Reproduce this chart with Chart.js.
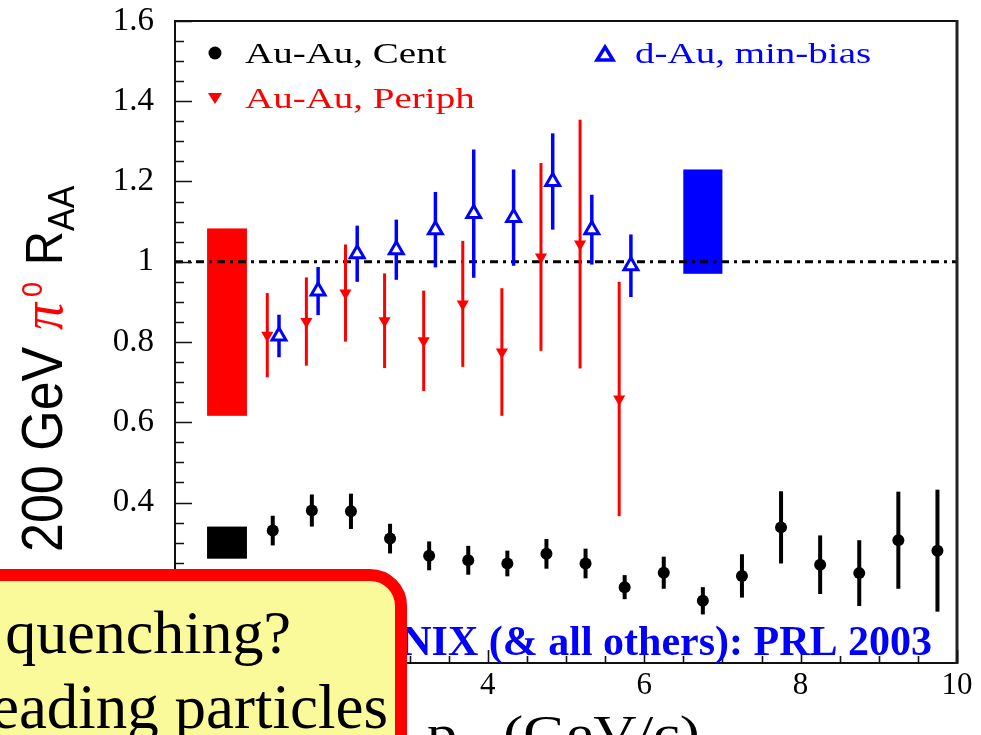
<!DOCTYPE html>
<html><head><meta charset="utf-8">
<script src="https://cdn.jsdelivr.net/npm/chart.js@4.4.1/dist/chart.umd.min.js"></script>
<style>html,body{margin:0;padding:0;background:#fff;overflow:hidden}#wrap{position:relative;width:981px;height:735px}</style>
</head><body><div id="wrap"><canvas id="c" width="981" height="735"></canvas></div>
<script>
// ---- data ----
const xCent = [1.25,1.75,2.25,2.75,3.25,3.75,4.25,4.75,5.25,5.75,6.25,6.75,7.25,7.75,8.25,8.75,9.25,9.75];
const yCent = [0.33,0.38,0.378,0.31,0.267,0.256,0.248,0.272,0.248,0.189,0.225,0.155,0.217,0.338,0.245,0.224,0.306,0.28];
const eCent = [0.037,0.04,0.044,0.037,0.036,0.036,0.032,0.037,0.037,0.03,0.04,0.034,0.054,0.09,0.073,0.082,0.121,0.152];

const xPeriph = [1.18,1.68,2.18,2.68,3.18,3.68,4.18,4.68,5.18,5.68];
const yPeriph = [0.817,0.851,0.922,0.853,0.803,0.895,0.775,1.012,1.044,0.658];
const ePeriph = [0.105,0.11,0.121,0.118,0.125,0.157,0.159,0.234,0.31,0.292];

const xDAu = [1.33,1.83,2.33,2.83,3.33,3.82,4.33,4.83,5.33,5.83];
const yDAu = [0.815,0.927,1.02,1.03,1.08,1.12,1.11,1.2,1.08,0.99];
const eDAu = [0.053,0.06,0.07,0.075,0.094,0.16,0.12,0.12,0.087,0.078];

// normalisation-uncertainty boxes: Cent, Periph, d-Au
const sysXLow  = [0.41, 0.41, 6.5];
const sysXHigh = [0.92, 0.92, 7.0];
const sysYLow  = [0.26, 0.616, 0.97];
const sysYHigh = [0.34, 1.083, 1.23];

const referenceLine = 1;
const xMin = 0, xMax = 10, xStep = 2;
const yMin = 0, yMax = 1.6, yStep = 0.2;

const legendLabels = ['Au-Au, Cent', 'Au-Au, Periph', 'd-Au, min-bias'];
const yTitleParts = ['200 GeV', '\u03C0', '0', 'R', 'AA'];
const xTitleParts = ['p', 'T', '(GeV/c)'];
const creditText = 'PHENIX (& all others): PRL 2003';
const boxLines = ['quenching?', 'leading particles'];

// ---- chart ----
const SERIF = '"Liberation Serif","Times New Roman",serif';
const SANS = '"Liberation Sans",Arial,sans-serif';
const sysColors = ['#000000', '#ff0000', '#0000ff'];

const mk = (xs, ys) => xs.map((x, i) => ({x, y: ys[i]}));

const plotPlugin = {
  id: 'plotExtras',
  beforeDatasetsDraw(chart) {
    const {ctx, chartArea: a, scales: {x, y}} = chart;
    ctx.save();
    for (let i = 0; i < sysXLow.length; i++) {
      const x0 = x.getPixelForValue(sysXLow[i]), x1 = x.getPixelForValue(sysXHigh[i]);
      const y0 = y.getPixelForValue(sysYHigh[i]), y1 = y.getPixelForValue(sysYLow[i]);
      ctx.fillStyle = sysColors[i];
      ctx.fillRect(x0, y0, x1 - x0, y1 - y0);
    }
    const yl = y.getPixelForValue(referenceLine);
    ctx.beginPath();
    ctx.setLineDash([8, 5, 3, 5]);
    ctx.lineWidth = 3;
    ctx.strokeStyle = '#000';
    ctx.moveTo(a.left, yl); ctx.lineTo(a.right, yl);
    ctx.stroke();
    ctx.setLineDash([]);
    chart.data.datasets.forEach(ds => {
      ctx.strokeStyle = ds.errColor;
      ctx.lineWidth = ds.errWidth;
      ds.data.forEach((p, i) => {
        const px = x.getPixelForValue(p.x);
        ctx.beginPath();
        ctx.moveTo(px, y.getPixelForValue(p.y - ds.errors[i]));
        ctx.lineTo(px, y.getPixelForValue(p.y + ds.errors[i]));
        ctx.stroke();
      });
    });
    ctx.restore();
  },
  afterDatasetsDraw(chart) {
    const {ctx, chartArea: a, scales: {x, y}} = chart;
    ctx.save();
    ctx.strokeStyle = '#111';
    ctx.lineWidth = 2;
    ctx.beginPath();
    ctx.moveTo(a.left, a.bottom); ctx.lineTo(a.left, a.top); ctx.lineTo(a.right, a.top);
    ctx.moveTo(a.left, a.bottom); ctx.lineTo(a.right, a.bottom);
    ctx.stroke();
    ctx.lineWidth = 3; ctx.strokeStyle = '#222';
    ctx.beginPath(); ctx.moveTo(a.right, a.top - 1); ctx.lineTo(a.right, a.bottom + 1); ctx.stroke();
    ctx.strokeStyle = '#111'; ctx.lineWidth = 1.6;
    ctx.beginPath();
    for (let k = 0; k <= Math.round((yMax - yMin) / 0.05); k++) {
      const v = yMin + k * 0.05;
      const py = Math.round(y.getPixelForValue(v)) + 0.5;
      const len = (k % 4 === 0) ? 17 : 9;
      ctx.moveTo(a.left, py); ctx.lineTo(a.left + len, py);
    }
    for (let k = 0; k <= Math.round((xMax - xMin) / 0.5); k++) {
      const v = xMin + k * 0.5;
      const px = Math.round(x.getPixelForValue(v)) + 0.5;
      const len = (k % 4 === 0) ? 13 : 7;
      ctx.moveTo(px, a.bottom); ctx.lineTo(px, a.bottom - len);
    }
    ctx.stroke();

    const drawLegendText = (txt, tx, ty, col) => {
      ctx.save();
      ctx.translate(tx, ty); ctx.scale(1.3, 1);
      ctx.font = '30px ' + SERIF; ctx.fillStyle = col; ctx.textBaseline = 'alphabetic'; ctx.textAlign = 'left';
      ctx.fillText(txt, 0, 0);
      ctx.restore();
    };
    const ds = chart.data.datasets;
    ctx.fillStyle = ds[0].backgroundColor;
    ctx.beginPath(); ctx.arc(215, 53, 6.5, 0, Math.PI * 2); ctx.fill();
    drawLegendText(ds[0].label, 245, 63, '#000');
    ctx.fillStyle = ds[1].backgroundColor;
    ctx.beginPath(); ctx.moveTo(208, 93); ctx.lineTo(222, 93); ctx.lineTo(215, 104); ctx.closePath(); ctx.fill();
    drawLegendText(ds[1].label, 245, 108, '#ff0000');
    ctx.strokeStyle = ds[2].borderColor; ctx.lineWidth = 3.5; ctx.fillStyle = '#fff';
    ctx.beginPath(); ctx.moveTo(605, 47); ctx.lineTo(613, 60); ctx.lineTo(597, 60); ctx.closePath(); ctx.fill(); ctx.stroke();
    drawLegendText(ds[2].label, 635, 63, '#0000ff');
    ctx.restore();
  },
  afterDraw(chart) {
    const {ctx} = chart;
    ctx.save();
    ctx.save();
    ctx.translate(62, 552);
    ctx.rotate(-Math.PI / 2);
    ctx.scale(1, 1.1);
    ctx.textBaseline = 'alphabetic'; ctx.textAlign = 'left';
    ctx.fillStyle = '#000'; ctx.font = '52px ' + SANS;
    ctx.fillText(yTitleParts[0], 0, 0);
    ctx.fillStyle = '#ff0000'; ctx.font = 'italic 54px ' + SERIF;
    ctx.fillText(yTitleParts[1], 222, 0);
    ctx.font = '27px ' + SANS;
    ctx.fillText(yTitleParts[2], 255, -18);
    ctx.fillStyle = '#000'; ctx.font = '47px ' + SANS;
    ctx.fillText(yTitleParts[3], 287, 0);
    ctx.font = '34px ' + SANS;
    ctx.fillText(yTitleParts[4], 321, 11);
    ctx.restore();

    ctx.save();
    ctx.fillStyle = '#000'; ctx.textBaseline = 'alphabetic'; ctx.textAlign = 'left';
    ctx.translate(427, 749); ctx.scale(1.25, 1);
    ctx.font = '48px ' + SERIF;
    ctx.fillText(xTitleParts[0], 0, 0);
    ctx.font = '30px ' + SERIF;
    ctx.fillText(xTitleParts[1], 25, 12);
    ctx.font = '48px ' + SERIF;
    ctx.fillText(xTitleParts[2], 61, 0);
    ctx.restore();

    ctx.fillStyle = '#0000ff'; ctx.font = 'bold 42px ' + SERIF;
    ctx.textAlign = 'right'; ctx.textBaseline = 'alphabetic';
    ctx.fillText(creditText, 932, 655);

    const L = -40, T = 575, R = 401, B = 800, rad = 31;
    ctx.beginPath();
    ctx.moveTo(L, T); ctx.lineTo(R - rad, T); ctx.arcTo(R, T, R, T + rad, rad);
    ctx.lineTo(R, B); ctx.lineTo(L, B); ctx.closePath();
    ctx.fillStyle = '#FAFA9B'; ctx.fill();
    ctx.lineWidth = 12; ctx.strokeStyle = '#ff0000'; ctx.stroke();
    ctx.fillStyle = '#000'; ctx.textAlign = 'right';
    ctx.font = '62px ' + SERIF;
    ctx.fillText(boxLines[0], 291, 653);
    ctx.font = '63px ' + SERIF;
    ctx.fillText(boxLines[1], 388, 728);
    ctx.restore();
  }
};

new Chart(document.getElementById('c'), {
  type: 'scatter',
  data: {
    datasets: [
      {label: legendLabels[0], data: mk(xCent, yCent), errors: eCent, errColor: '#000', errWidth: 4,
       pointStyle: 'circle', pointRadius: 6, backgroundColor: '#000', borderColor: '#000', borderWidth: 0},
      {label: legendLabels[1], data: mk(xPeriph, yPeriph), errors: ePeriph, errColor: '#ff0000', errWidth: 3,
       pointStyle: 'triangle', rotation: 180, pointRadius: 7, backgroundColor: '#ff0000', borderColor: '#ff0000', borderWidth: 0},
      {label: legendLabels[2], data: mk(xDAu, yDAu), errors: eDAu, errColor: '#0000ff', errWidth: 3.5,
       pointStyle: 'triangle', pointRadius: 8, backgroundColor: '#ffffff', borderColor: '#0000ff', borderWidth: 3}
    ]
  },
  options: {
    responsive: false, animation: false, devicePixelRatio: 1,
    layout: {padding: {left: 0, top: 21, right: 24, bottom: 0}},
    plugins: {legend: {display: false}, tooltip: {enabled: false}},
    scales: {
      x: {type: 'linear', min: xMin, max: xMax,
          afterFit: s => { s.height = 72; s.paddingLeft = 0; s.paddingRight = 0; },
          grid: {display: false, drawTicks: false}, border: {display: false},
          ticks: {stepSize: xStep, padding: 4, autoSkip: false, maxRotation: 0, color: '#000',
                  font: {family: SERIF, size: 31}}},
      y: {type: 'linear', min: yMin, max: yMax,
          afterFit: s => { s.width = 175; s.paddingTop = 0; s.paddingBottom = 0; },
          grid: {display: false, drawTicks: false}, border: {display: false},
          ticks: {stepSize: yStep, padding: 21, autoSkip: false, color: '#000',
                  font: {family: SERIF, size: 33},
                  callback: v => String(+v.toFixed(1))}}
    }
  },
  plugins: [plotPlugin]
});
</script>
</body></html>
